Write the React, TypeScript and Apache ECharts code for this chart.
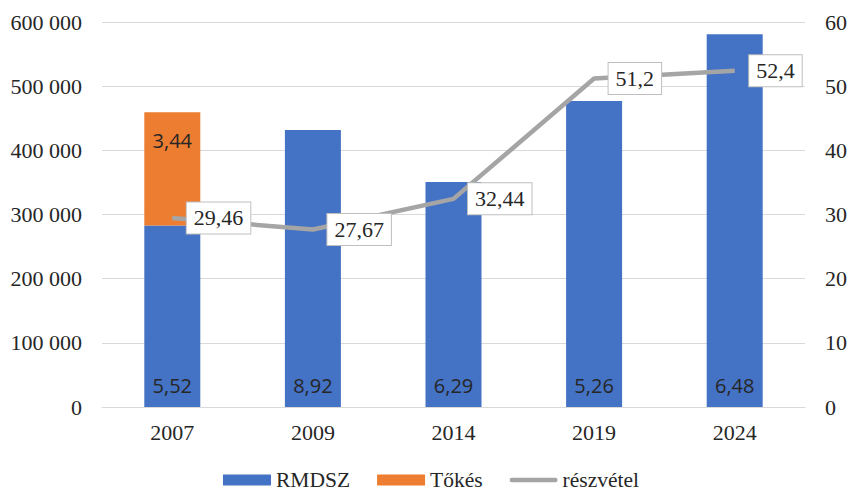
import React, { useEffect, useRef } from "react";
import * as echarts from "echarts";

const years = ["2007", "2009", "2014", "2019", "2024"];
const rmdszVotes = [282929, 431739, 350689, 476777, 581000];
const tokesVotes = [176533, null, null, null, null];
const rmdszPct = [5.52, 8.92, 6.29, 5.26, 6.48];
const tokesPct = [3.44, null, null, null, null];
const turnout = [29.46, 27.67, 32.44, 51.2, 52.4];

const serif = "'Liberation Serif', 'Times New Roman', serif";
const sans = "'Open Sans', 'Noto Sans', sans-serif";
const comma = (v: number) => String(v).replace(".", ",");
const thousands = (v: number) => String(v).replace(/\B(?=(\d{3})+(?!\d))/g, " ");

export default function App() {
  const ref = useRef<HTMLDivElement>(null);
  useEffect(() => {
    if (!ref.current) return;
    const chart = echarts.init(ref.current, null, { renderer: "svg" });
    chart.setOption({
      animation: false,
      grid: { left: 102, right: 47, top: 22, bottom: 84 },
      legend: {
        left: 218,
        top: 464,
        itemWidth: 48,
        itemHeight: 11,
        itemGap: 27,
        textStyle: { fontFamily: serif, fontSize: 21.5, color: "#262626" },
        data: [
          { name: "RMDSZ", icon: "rect" },
          { name: "Tőkés", icon: "rect" },
          { name: "részvétel", icon: "path://M2.5,0 L50.5,0 A2.5,2.5 0 0 1 50.5,5 L2.5,5 A2.5,2.5 0 0 1 2.5,0 Z" },
        ],
      },
      xAxis: {
        type: "category",
        data: years,
        axisTick: { show: false },
        axisLine: { lineStyle: { color: "#d9d9d9", width: 1 } },
        axisLabel: { fontFamily: serif, fontSize: 22, color: "#262626", margin: 14 },
      },
      yAxis: [
        {
          type: "value",
          min: 0,
          max: 600000,
          interval: 100000,
          axisLabel: {
            fontFamily: serif,
            fontSize: 22,
            color: "#262626",
            margin: 20,
            formatter: (v: number) => thousands(v),
          },
          splitLine: { lineStyle: { color: "#d9d9d9", width: 1 } },
          axisLine: { show: false },
          axisTick: { show: false },
        },
        {
          type: "value",
          min: 0,
          max: 60,
          interval: 10,
          position: "right",
          axisLabel: { fontFamily: serif, fontSize: 22, color: "#262626", margin: 20 },
          splitLine: { show: false },
          axisLine: { show: false },
          axisTick: { show: false },
        },
      ],
      series: [
        {
          name: "RMDSZ",
          type: "bar",
          stack: "votes",
          barWidth: 56,
          itemStyle: { color: "#4472C4" },
          data: rmdszVotes,
          label: {
            show: true,
            position: "insideBottom",
            distance: 12,
            fontFamily: sans,
            fontSize: 20,
            color: "#262626",
            formatter: (p: any) => comma(rmdszPct[p.dataIndex] as number),
          },
        },
        {
          name: "Tőkés",
          type: "bar",
          stack: "votes",
          barWidth: 56,
          itemStyle: { color: "#ED7D31" },
          data: tokesVotes,
          label: {
            show: true,
            position: "insideTop",
            distance: 18,
            fontFamily: sans,
            fontSize: 20,
            color: "#262626",
            formatter: (p: any) => {
              const v = tokesPct[p.dataIndex];
              return v == null ? "" : comma(v);
            },
          },
        },
        {
          name: "részvétel",
          type: "line",
          yAxisIndex: 1,
          data: turnout,
          symbol: "circle",
          symbolSize: 1,
          itemStyle: { color: "#A5A5A5" },
          lineStyle: { color: "#A5A5A5", width: 4.5 },
          z: 5,
          label: {
            show: true,
            position: "right",
            distance: 14,
            fontFamily: serif,
            fontSize: 22,
            color: "#262626",
            backgroundColor: "#ffffff",
            borderColor: "#bfbfbf",
            borderWidth: 1,
            padding: [5, 7, 4, 7],
            formatter: (p: any) => comma(p.value),
          },
        },
      ],
    });
    return () => chart.dispose();
  }, []);
  return (
    <div
      ref={ref}
      style={{ position: "fixed", left: 0, top: 0, width: 852, height: 491, background: "#fff" }}
    />
  );
}
